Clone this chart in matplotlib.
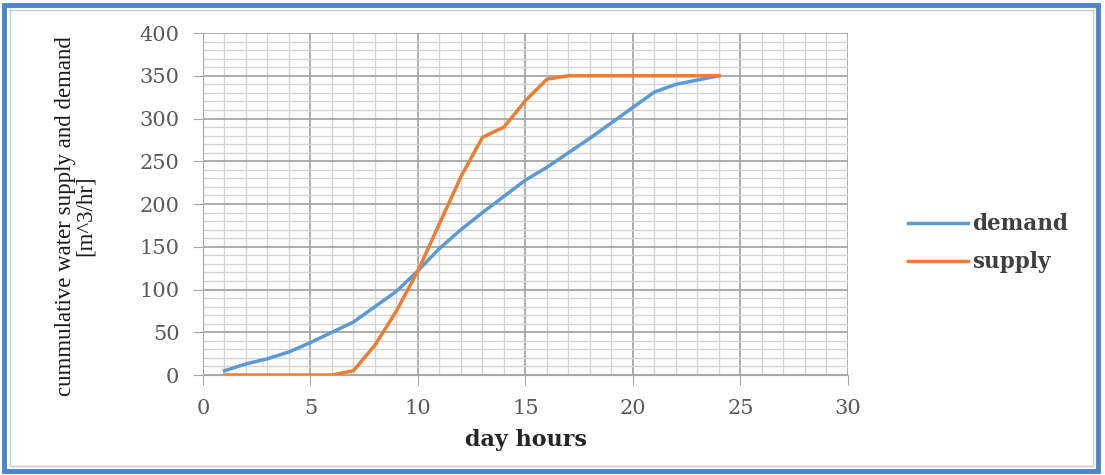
import matplotlib.pyplot as plt
from matplotlib.patches import Rectangle
from matplotlib.ticker import MultipleLocator

# day hours and cumulative volumes
hours = list(range(1, 25))
demand = [5, 13, 19, 27, 38, 50, 62, 80, 98, 122, 148, 170, 190, 209, 228, 243,
          260, 277, 295, 313, 331, 340, 345, 350]
supply = [0, 0, 0, 0, 0, 0, 5, 35, 75, 122, 177, 232, 278, 290, 321, 346,
          350, 350, 350, 350, 350, 350, 350, 350]

blue = '#5b9bd5'
orange = '#ed7d31'
tick_grey = '#595959'

fig = plt.figure(figsize=(11.05, 4.75), dpi=100)
ax = fig.add_axes([0.1837, 0.2105, 0.5837, 0.72])

ax.plot(hours, demand, color=blue, linewidth=2.5, label='demand')
ax.plot(hours, supply, color=orange, linewidth=2.5, label='supply')

ax.set_xlim(0, 30)
ax.set_ylim(0, 400)
ax.xaxis.set_major_locator(MultipleLocator(5))
ax.xaxis.set_minor_locator(MultipleLocator(1))
ax.yaxis.set_major_locator(MultipleLocator(50))
ax.yaxis.set_minor_locator(MultipleLocator(10))
ax.grid(which='major', color='#a6a6a6', linewidth=1.3)
ax.grid(which='minor', color='#d4d4d4', linewidth=1.0)
ax.set_axisbelow(True)

for s in ['top', 'right']:
    ax.spines[s].set_visible(False)
for s in ['left', 'bottom']:
    ax.spines[s].set_color('#a6a6a6')
ax.tick_params(which='major', length=7, color='#a6a6a6', labelcolor=tick_grey,
               labelsize=15)
ax.tick_params(axis='y', pad=10)
ax.tick_params(axis='x', pad=10)
ax.tick_params(which='minor', length=0)
for lab in ax.get_xticklabels() + ax.get_yticklabels():
    lab.set_family('DejaVu Serif')

ax.set_xlabel('day hours', family='DejaVu Serif', fontsize=16,
              fontweight='bold', color='#262626', labelpad=8)
ax.set_ylabel('cummulative water supply and demand\n[m^3/hr]',
              family='Liberation Serif', fontsize=16.5, color='#1a1a1a',
              linespacing=0.95)
ax.yaxis.set_label_coords(-0.166, 0.465)

leg = fig.legend(loc='center left', bbox_to_anchor=(0.804, 0.488), frameon=False,
                 handlelength=2.8, handletextpad=0.2, labelspacing=0.75,
                 prop={'family': 'DejaVu Serif', 'weight': 'bold', 'size': 15.5})
for t in leg.get_texts():
    t.set_color('#404040')

# outer frame like the original screenshot
fig.patches.append(Rectangle((0.004, 0.008), 0.99, 0.982, transform=fig.transFigure,
                             fill=False, edgecolor='#4a86c8', linewidth=3.5))
fig.patches.append(Rectangle((0.009, 0.018), 0.98, 0.962, transform=fig.transFigure,
                             fill=False, edgecolor='#c8c8c8', linewidth=1))

fig.savefig('out.png', dpi=100)
